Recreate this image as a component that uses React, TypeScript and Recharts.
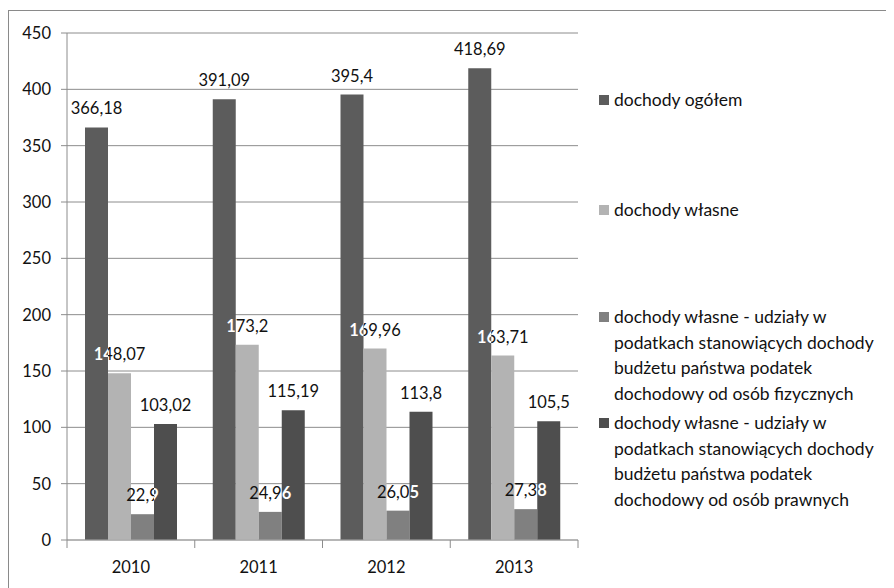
import React from 'react';
import { BarChart, Bar, XAxis, YAxis, CartesianGrid, Legend, LabelList } from 'recharts';

const years = ['2010', '2011', '2012', '2013'];
const dochodyOgolem = [366.18, 391.09, 395.4, 418.69];
const dochodyWlasne = [148.07, 173.2, 169.96, 163.71];
const udzialyFizyczne = [22.9, 24.96, 26.05, 27.38];
const udzialyPrawne = [103.02, 115.19, 113.8, 105.5];
const seriesNames = [
  'dochody ogółem',
  'dochody własne',
  'dochody własne - udziały w podatkach stanowiących dochody budżetu państwa podatek dochodowy od osób fizycznych',
  'dochody własne - udziały w podatkach stanowiących dochody budżetu państwa podatek dochodowy od osób prawnych',
];
const seriesKeys = ['s0', 's1', 's2', 's3'];
const seriesColors = ['#5c5c5c', '#b3b3b3', '#808080', '#4e4e4e'];
const yTicks = [0, 50, 100, 150, 200, 250, 300, 350, 400, 450];

const data = years.map((year, i) => ({
  year,
  s0: dochodyOgolem[i],
  s1: dochodyWlasne[i],
  s2: udzialyFizyczne[i],
  s3: udzialyPrawne[i],
}));

const FONT = 'Lato, "Liberation Sans", sans-serif';
const FS = 16.5;
const LFS = 17.5;
const GRID = '#8c8c8c';

const fmt = (v: number) => String(v).replace('.', ',');

const makeLabel = (si: number) => (props: any) => {
  const { x, y, width, value, index } = props;
  const cx = Number(x) + Number(width) / 2;
  const ty = Number(y) - 13;
  const w = Number(width);
  let clip: { x0: number; x1: number } | null = null;
  if (si === 1) clip = { x0: Number(x) - w, x1: Number(x) };
  if (si === 2) clip = { x0: Number(x) + w, x1: Number(x) + 2 * w };
  const id = `lblclip-${si}-${index}`;
  return (
    <g>
      <text x={cx} y={ty} textAnchor="middle" fontFamily={FONT} fontSize={FS} fill="#111">
        {fmt(value)}
      </text>
      {clip && (
        <>
          <defs>
            <clipPath id={id}>
              <rect x={clip.x0} y={ty - 30} width={clip.x1 - clip.x0} height={40} />
            </clipPath>
          </defs>
          <text x={cx} y={ty} textAnchor="middle" fontFamily={FONT} fontSize={FS} fontWeight="bold" fill="#fff" clipPath={`url(#${id})`}>
            {fmt(value)}
          </text>
        </>
      )}
    </g>
  );
};

const XTick = (props: any) => {
  const { x, y, payload, index, visibleTicksCount } = props;
  const half = payload && payload.offset ? payload.offset : 64;
  const last = index === (visibleTicksCount ?? 4) - 1;
  return (
    <g>
      <line x1={x - half} x2={x - half} y1={y} y2={y + 8} stroke={GRID} />
      {last && <line x1={x + half} x2={x + half} y1={y} y2={y + 8} stroke={GRID} />}
      <text x={x} y={y + 33} textAnchor="middle" fontFamily={FONT} fontSize={FS} fill="#111">
        {payload.value}
      </text>
    </g>
  );
};

const renderLegend = (props: any) => {
  const tops = [76, 186, 293, 399];
  const payload = props.payload && props.payload.length ? props.payload : seriesNames.map((n, i) => ({ value: n, color: seriesColors[i] }));
  return (
    <div style={{ position: 'relative', width: 300, height: 520, fontFamily: FONT, fontSize: LFS, lineHeight: '25.7px', color: '#111' }}>
      {payload.map((p: any, i: number) => (
        <div key={i} style={{ position: 'absolute', left: 0, top: tops[i], width: 300 }}>
          <span style={{ position: 'absolute', left: 9, top: 8, width: 10, height: 10, background: p.color }} />
          <div style={{ marginLeft: 24, width: 266 }}>{p.value}</div>
        </div>
      ))}
    </div>
  );
};

export default function App() {
  return (
    <div style={{ marginTop: 2, width: 886, height: 578, borderTop: '1px solid #8a8a8a', borderLeft: '1px solid #8a8a8a', boxSizing: 'border-box', background: '#fff' }}>
      <BarChart
        width={884}
        height={576}
        data={data}
        margin={{ top: 22, right: 315, bottom: 17, left: 8 }}
        barCategoryGap={18}
        barGap={0}
      >
        <CartesianGrid vertical={false} stroke={GRID} />
        <XAxis
          dataKey="year"
          stroke="#a8a8a8"
          tickLine={false}
          tickSize={0}
          tickMargin={0}
          height={30}
          tick={<XTick />}
          interval={0}
        />
        <YAxis
          domain={[0, 450]}
          ticks={yTicks}
          width={50}
          stroke={GRID}
          tickSize={6}
          tickMargin={10}
          tick={{ fontFamily: FONT, fontSize: FS, fill: '#111' }}
          interval={0}
        />
        <Legend
          layout="vertical"
          align="center"
          verticalAlign="middle"
          wrapperStyle={{ left: 581, top: 0, width: 300 }}
          content={renderLegend}
        />
        {seriesKeys.map((k, i) => (
          <Bar key={k} dataKey={k} name={seriesNames[i]} fill={seriesColors[i]} isAnimationActive={false}>
            <LabelList dataKey={k} content={makeLabel(i)} />
          </Bar>
        ))}
      </BarChart>
    </div>
  );
}
